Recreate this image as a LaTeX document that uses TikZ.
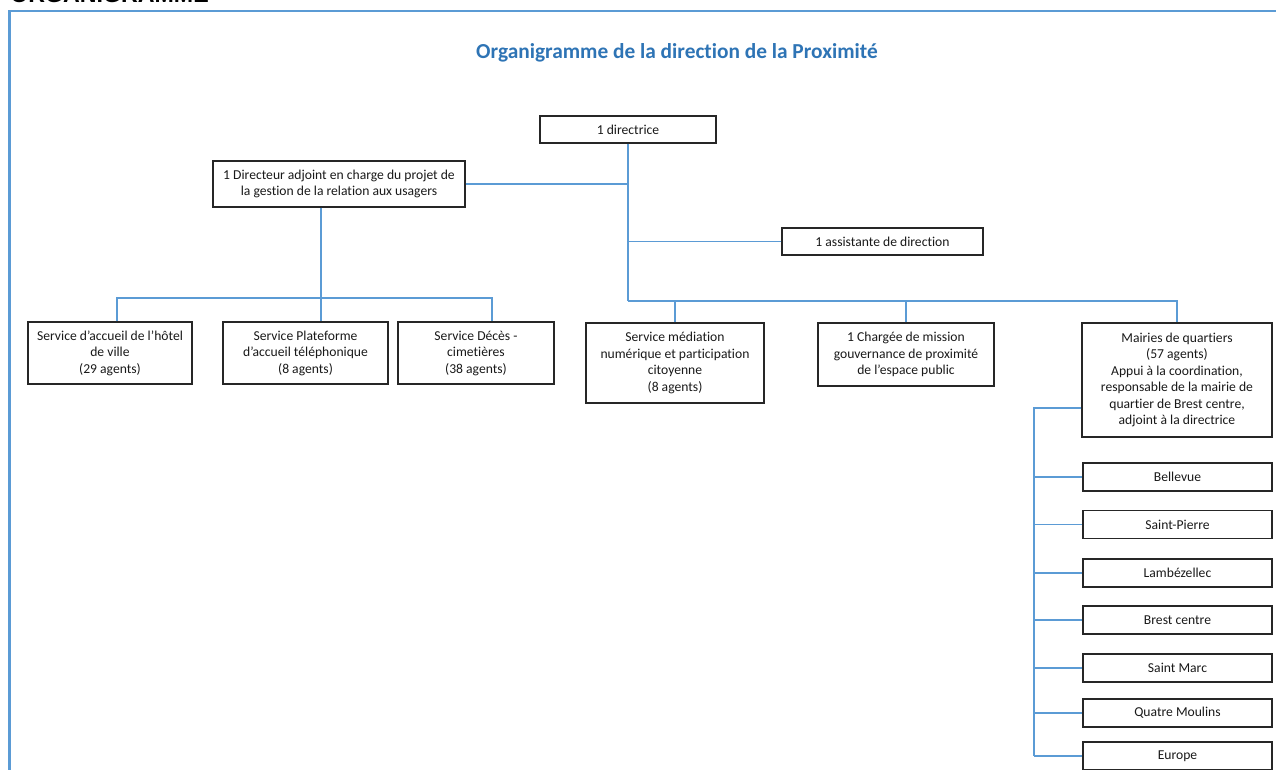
\documentclass[tikz,border=0pt]{standalone}
\usepackage{fontspec}
\setmainfont{Carlito}[Ligatures=NoCommon]
\newfontfamily\arialfont{Liberation Sans}
\usetikzlibrary{calc}
\definecolor{lienbleu}{HTML}{5B9BD5}
\definecolor{titrebleu}{HTML}{2E74B5}
\tikzset{
  boite/.style={draw=black!85, line width=0.6pt, align=center, inner sep=0pt,
    font=\fontsize{7.75}{9.4}\selectfont, text=black!90},
  lien/.style={draw=lienbleu, line width=0.6pt},
}

\begin{document}
\begin{tikzpicture}[x=0.02cm, y=-0.02cm]
  %%%%% START %%%%%
  \useasboundingbox (0,0) rectangle (1276,769);
  \clip (0,0) rectangle (1276,769);

  \node[anchor=base west, inner sep=0pt, font=\arialfont\bfseries\fontsize{13.2}{15}\selectfont] (entete) at (10,2.7) {ORGANIGRAMME};
  \draw[draw=lienbleu, line width=1.2pt] (9.5,11) rectangle (1300,800);

  \node[font=\bfseries\fontsize{12.15}{14}\selectfont, text=titrebleu] (titre) at (677,53) {Organigramme de la direction de la Proximité};

  \node[boite, minimum width=3.52cm, minimum height=0.54cm] (dir) at (628,129.5) {1 directrice};
  \node[boite, minimum width=5.04cm, minimum height=0.92cm] (adj) at (339,184) {1 Directeur adjoint en charge du projet de\\la gestion de la relation aux usagers};
  \node[boite, minimum width=4.02cm, minimum height=0.54cm] (ass) at (882.5,241.5) {1 assistante de direction};

  \node[boite, minimum width=3.28cm, minimum height=1.24cm] (acc) at (110,353) {Service d’accueil de l’hôtel\\de ville\\(29 agents)};
  \node[boite, minimum width=3.30cm, minimum height=1.24cm] (tel) at (305.5,353) {Service Plateforme\\d’accueil téléphonique\\(8 agents)};
  \node[boite, minimum width=3.12cm, minimum height=1.24cm] (dec) at (476,353) {Service Décès -\\cimetières\\(38 agents)};

  \node[boite, minimum width=3.56cm, minimum height=1.60cm] (med) at (675,363) {Service médiation\\numérique et participation\\citoyenne\\(8 agents)};
  \node[boite, minimum width=3.52cm, minimum height=1.26cm] (mis) at (906,354.5) {1 Chargée de mission\\gouvernance de proximité\\de l’espace public};
  \node[boite, minimum width=3.80cm, minimum height=2.28cm] (mai) at (1177,380) {Mairies de quartiers\\(57 agents)\\Appui à la coordination,\\responsable de la mairie de\\quartier de Brest centre,\\adjoint à la directrice};

  \foreach \nom/\yy/\lab in {bel/477/Bellevue, spi/524.5/Saint-Pierre, lam/573/Lambézellec,
      bre/620/Brest centre, smc/668/Saint Marc, qmo/713/Quatre Moulins, eur/756/Europe}
    \node[boite, minimum width=3.78cm, minimum height=0.56cm] (\nom) at (1177.5,\yy) {\lab};

  % liens
  \coordinate (busd) at (628,301);
  \coordinate (busg) at (321,298);
  \coordinate (ga) at (117,298);
  \coordinate (gd) at (492,298);
  \coordinate (colq) at (1034,408);

  \draw[lien] (dir.south) -- (busd);
  \draw[lien] (adj.east) -- (adj.east -| dir.south);
  \draw[lien] (ass.west) -- (ass.west -| dir.south);
  \draw[lien] (busd) -| (mai.north);
  \draw[lien] (med.north) -- (med.north |- busd);
  \draw[lien] (mis.north) -- (mis.north |- busd);

  \draw[lien] (busg |- adj.south) -- (busg |- tel.north);
  \draw[lien] (ga |- acc.north) -- (ga) -- (gd) -- (gd |- dec.north);

  \draw[lien] (mai.west |- colq) -- (colq) -- (colq |- eur.west);
  \foreach \nom in {bel,spi,lam,bre,smc,qmo,eur}
    \draw[lien] (colq |- \nom.west) -- (\nom.west);
  %%%%% END %%%%%
\end{tikzpicture}
\end{document}
